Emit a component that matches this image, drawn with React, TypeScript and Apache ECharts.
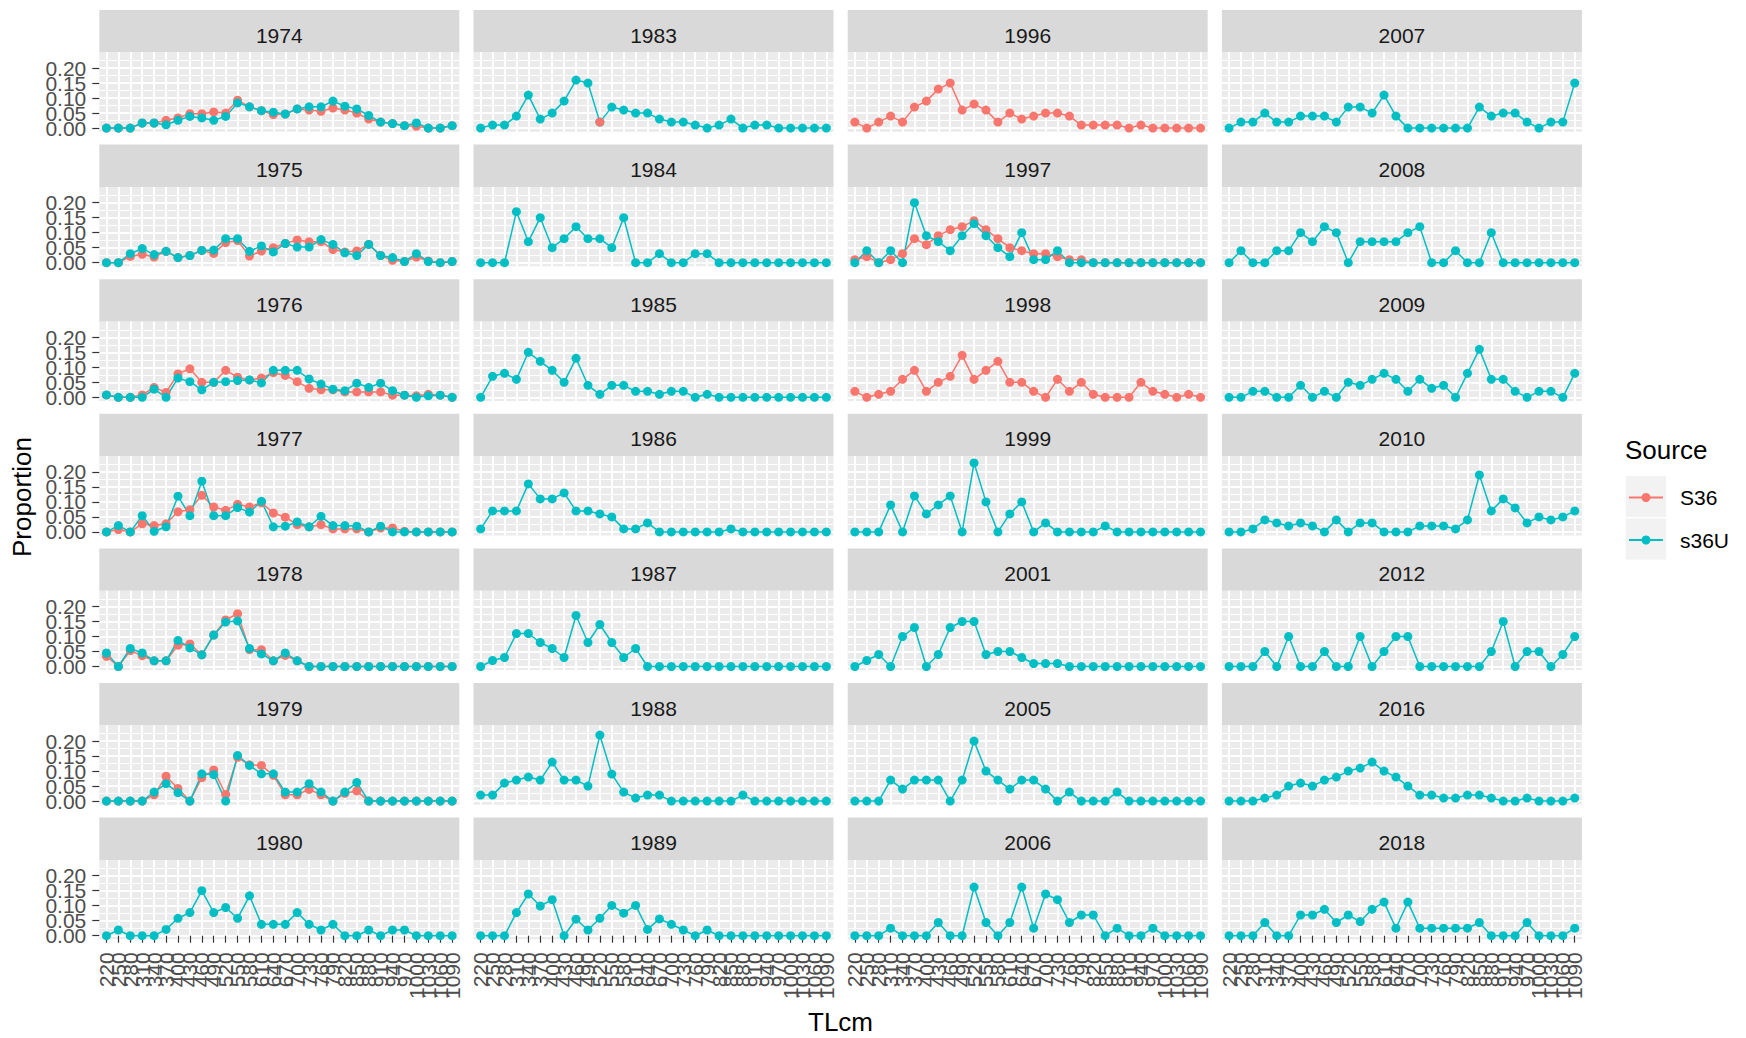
import React, { useEffect, useRef } from 'react';
import * as echarts from 'echarts';

const categories = ['220','250','280','310','340','370','400','430','460','490','520','550','580','610','640','670','700','730','760','790','820','850','880','910','940','970','1000','1030','1060','1090'];
const yTickLabels = ['0.00','0.05','0.10','0.15','0.20'];
const years = ['1974','1983','1996','2007','1975','1984','1997','2008','1976','1985','1998','2009','1977','1986','1999','2010','1978','1987','2001','2012','1979','1988','2005','2016','1980','1989','2006','2018'];

// s36U series
const U1974 = [0,0,0,0.017,0.017,0.011,0.026,0.039,0.034,0.026,0.039,0.084,0.071,0.058,0.053,0.047,0.064,0.071,0.071,0.09,0.073,0.064,0.042,0.02,0.015,0.008,0.017,0,0,0.008];
const U1975 = [0,0,0.03,0.047,0.027,0.038,0.017,0.024,0.041,0.042,0.08,0.08,0.038,0.056,0.036,0.064,0.052,0.052,0.077,0.061,0.033,0.024,0.061,0.024,0.017,0.004,0.03,0.004,0,0.004];
const U1976 = [0.008,0,0,0,0.027,0,0.064,0.052,0.025,0.05,0.052,0.056,0.058,0.048,0.09,0.09,0.09,0.061,0.044,0.027,0.022,0.047,0.033,0.047,0.022,0.007,0,0.005,0.007,0];
const U1977 = [0,0.021,0,0.054,0.002,0.017,0.119,0.054,0.169,0.054,0.054,0.081,0.066,0.102,0.017,0.019,0.033,0.017,0.052,0.021,0.021,0.019,0,0.019,0,0,0,0,0,0];
const U1978 = [0.045,0,0.06,0.045,0.019,0.019,0.087,0.062,0.039,0.105,0.148,0.152,0.06,0.042,0.019,0.045,0.019,0,0,0,0,0,0,0,0,0,0,0,0,0];
const U1979 = [0,0,0,0,0.03,0.058,0.028,0,0.091,0.088,0,0.152,0.119,0.091,0.091,0.03,0.03,0.058,0.03,0,0.03,0.062,0,0,0,0,0,0,0,0];
const U1980 = [0,0.019,0,0,0,0.021,0.058,0.077,0.15,0.077,0.094,0.058,0.133,0.038,0.038,0.038,0.077,0.038,0.019,0.038,0,0,0.019,0,0.019,0.019,0,0,0,0];
const U1983 = [0,0.01,0.01,0.04,0.11,0.03,0.05,0.09,0.16,0.15,0.02,0.07,0.06,0.05,0.05,0.03,0.02,0.02,0.01,0,0.01,0.03,0,0.01,0.01,0,0,0,0,0];
const U1984 = [0,0,0,0.17,0.07,0.15,0.05,0.08,0.12,0.08,0.08,0.05,0.15,0,0,0.03,0,0,0.03,0.03,0,0,0,0,0,0,0,0,0,0];
const U1985 = [0,0.07,0.08,0.06,0.15,0.12,0.09,0.05,0.13,0.04,0.01,0.04,0.04,0.02,0.02,0.01,0.02,0.02,0,0.01,0,0,0,0,0,0,0,0,0,0];
const U1986 = [0.01,0.07,0.07,0.07,0.16,0.11,0.11,0.13,0.07,0.07,0.06,0.05,0.01,0.01,0.03,0,0,0,0,0,0,0.01,0,0,0,0,0,0,0,0];
const U1987 = [0,0.02,0.03,0.11,0.11,0.08,0.06,0.03,0.17,0.08,0.14,0.08,0.03,0.06,0,0,0,0,0,0,0,0,0,0,0,0,0,0,0,0];
const U1988 = [0.02,0.02,0.06,0.07,0.08,0.07,0.13,0.07,0.07,0.05,0.22,0.09,0.03,0.01,0.02,0.02,0,0,0,0,0,0,0.02,0,0,0,0,0,0,0];
const U1989 = [0,0,0,0.077,0.139,0.099,0.12,0,0.055,0.019,0.058,0.101,0.075,0.101,0.021,0.056,0.038,0.019,0,0.019,0,0,0,0,0,0,0,0,0,0];
const U1997 = [0,0.04,0,0.04,0,0.2,0.09,0.07,0.04,0.09,0.13,0.09,0.05,0.02,0.1,0.01,0.01,0.04,0,0,0,0,0,0,0,0,0,0,0,0];
const U1999 = [0,0,0,0.09,0,0.12,0.06,0.09,0.12,0,0.23,0.1,0,0.06,0.1,0,0.03,0,0,0,0,0.02,0,0,0,0,0,0,0,0];
const U2001 = [0,0.02,0.04,0,0.1,0.13,0,0.04,0.13,0.15,0.15,0.04,0.05,0.05,0.03,0.01,0.01,0.01,0,0,0,0,0,0,0,0,0,0,0,0];
const U2005 = [0,0,0,0.07,0.04,0.07,0.07,0.07,0,0.07,0.2,0.1,0.07,0.04,0.07,0.07,0.04,0,0.03,0,0,0,0.03,0,0,0,0,0,0,0];
const U2006 = [0,0,0,0.025,0,0,0,0.044,0,0,0.162,0.044,0,0.044,0.162,0.025,0.139,0.12,0.044,0.069,0.069,0,0.025,0,0,0.025,0,0,0,0];
const U2007 = [0,0.02,0.02,0.05,0.02,0.02,0.04,0.04,0.04,0.02,0.07,0.07,0.05,0.11,0.04,0,0,0,0,0,0,0.07,0.04,0.05,0.05,0.02,0,0.02,0.02,0.15];
const U2008 = [0,0.04,0,0,0.04,0.04,0.1,0.07,0.12,0.1,0,0.07,0.07,0.07,0.07,0.1,0.12,0,0,0.04,0,0,0.1,0,0,0,0,0,0,0];
const U2009 = [0,0,0.02,0.02,0,0,0.04,0,0.02,0,0.05,0.04,0.06,0.08,0.06,0.02,0.06,0.03,0.04,0,0.08,0.16,0.06,0.06,0.02,0,0.02,0.02,0,0.08];
const U2010 = [0,0,0.01,0.04,0.03,0.02,0.03,0.02,0,0.04,0,0.03,0.03,0,0,0,0.02,0.02,0.02,0.01,0.04,0.19,0.07,0.11,0.08,0.03,0.05,0.04,0.05,0.07];
const U2012 = [0,0,0,0.05,0,0.1,0,0,0.05,0,0,0.1,0,0.05,0.1,0.1,0,0,0,0,0,0,0.05,0.15,0,0.05,0.05,0,0.04,0.1];
const U2016 = [0,0,0,0.01,0.02,0.05,0.06,0.05,0.07,0.08,0.1,0.11,0.13,0.1,0.08,0.05,0.02,0.02,0.01,0.01,0.02,0.02,0.01,0,0,0.01,0,0,0,0.01];
const U2018 = [0,0,0,0.044,0,0,0.069,0.069,0.088,0.044,0.069,0.047,0.088,0.112,0.025,0.112,0.025,0.025,0.025,0.025,0.025,0.044,0,0,0,0.044,0,0,0,0.025];

// S36 series
const R1974 = [0,0,0,0.017,0.017,0.026,0.034,0.048,0.048,0.054,0.05,0.093,0.071,0.058,0.045,0.047,0.064,0.06,0.056,0.067,0.06,0.05,0.03,0.02,0.015,0.008,0.006,0,0,0.008];
const R1975 = [0,0,0.021,0.028,0.019,0.038,0.017,0.024,0.041,0.031,0.067,0.074,0.022,0.039,0.05,0.064,0.076,0.07,0.07,0.044,0.036,0.039,0.061,0.024,0.008,0.004,0.019,0.006,0,0.004];
const R1976 = [0.008,0,0,0.008,0.033,0.016,0.078,0.095,0.05,0.05,0.09,0.067,0.058,0.064,0.082,0.073,0.052,0.03,0.025,0.025,0.018,0.018,0.018,0.018,0.007,0.007,0.005,0.01,0.007,0];
const R1977 = [0,0.008,0,0.027,0.021,0.027,0.067,0.074,0.122,0.083,0.072,0.092,0.083,0.097,0.063,0.049,0.024,0.017,0.024,0.01,0.01,0.01,0,0.013,0.013,0.002,0,0,0,0];
const R1978 = [0.034,0,0.053,0.036,0.019,0.019,0.071,0.075,0.039,0.105,0.155,0.176,0.056,0.056,0.019,0.037,0.019,0,0,0,0,0,0,0,0,0,0,0,0,0];
const R1979 = [0,0,0,0,0.021,0.083,0.042,0,0.078,0.104,0.022,0.146,0.121,0.119,0.086,0.021,0.021,0.039,0.021,0,0.026,0.034,0,0,0,0,0,0,0,0];
const R1983 = [null,null,null,null,null,null,null,null,null,null,0.02,null,null,null,null,null,null,null,null,null,null,null,null,null,null,null,null,null,null,null];
const R1996 = [0.02,0,0.02,0.04,0.02,0.07,0.09,0.13,0.15,0.06,0.08,0.06,0.02,0.05,0.03,0.04,0.05,0.05,0.04,0.01,0.01,0.01,0.01,0,0.01,0,0,0,0,0];
const R1997 = [0.01,0.02,0,0.01,0.03,0.08,0.06,0.09,0.11,0.12,0.14,0.11,0.08,0.05,0.04,0.03,0.03,0.02,0.01,0.01,0,0,0,0,0,0,0,0,0,0];
const R1998 = [0.02,0,0.01,0.02,0.06,0.09,0.02,0.05,0.07,0.14,0.06,0.09,0.12,0.05,0.05,0.02,0,0.06,0.02,0.05,0.01,0,0,0,0.05,0.02,0.01,0,0.01,0];

const seriesU: Record<string, (number | null)[] | null> = {
  '1974': U1974, '1975': U1975, '1976': U1976, '1977': U1977, '1978': U1978, '1979': U1979, '1980': U1980,
  '1983': U1983, '1984': U1984, '1985': U1985, '1986': U1986, '1987': U1987, '1988': U1988, '1989': U1989,
  '1996': null, '1997': U1997, '1998': null, '1999': U1999, '2001': U2001, '2005': U2005, '2006': U2006,
  '2007': U2007, '2008': U2008, '2009': U2009, '2010': U2010, '2012': U2012, '2016': U2016, '2018': U2018,
};
const seriesR: Record<string, (number | null)[] | null> = {
  '1974': R1974, '1975': R1975, '1976': R1976, '1977': R1977, '1978': R1978, '1979': R1979,
  '1983': R1983, '1996': R1996, '1997': R1997, '1998': R1998,
};
// panels where the S36 points are drawn above the s36U points
const redOnTop = ['1983'];

const RED = '#F8766D';
const TEAL = '#00BFC4';
const FONT = "'Liberation Sans', Arial, sans-serif";

const COL_LEFT = [99.3, 473.5, 847.7, 1221.9];
const PANEL_W = 360;
const PANEL_H = 79.4;
const ROW0_TOP = 52.3;
const ROW_PITCH = 134.6;
const STRIP_H = 42.3;
const PX_PER_VAL = 300;

function buildOption() {
  const grids: any[] = [];
  const xAxes: any[] = [];
  const yAxes: any[] = [];
  const series: any[] = [];
  const graphics: any[] = [];
  const unit = PANEL_W / 30.2;
  const noGrid = { outerBoundsMode: 'none', containLabel: false };

  years.forEach((year, i) => {
    const r = Math.floor(i / 4);
    const c = i % 4;
    const pL = COL_LEFT[c];
    const pT = ROW0_TOP + r * ROW_PITCH;
    const pB = pT + PANEL_H;
    const zeroY = pB - 3.6;
    const bottomRow = r === 6;
    const firstCol = c === 0;

    graphics.push({ type: 'rect', z: -10, silent: true, shape: { x: pL, y: pT, width: PANEL_W, height: PANEL_H }, style: { fill: '#EBEBEB' } });
    graphics.push({ type: 'rect', z: -10, silent: true, shape: { x: pL, y: pT - STRIP_H, width: PANEL_W, height: STRIP_H }, style: { fill: '#D9D9D9' } });
    graphics.push({ type: 'text', silent: true, x: pL + PANEL_W / 2, y: pT - STRIP_H + 25, style: { text: year, fill: '#1A1A1A', fontSize: 21, fontFamily: FONT, align: 'center', verticalAlign: 'middle', textAlign: 'center', textVerticalAlign: 'middle' } });

    // grid A: data
    const a = grids.length;
    grids.push({ left: pL + 0.6 * unit, top: zeroY - 0.2 * PX_PER_VAL, width: 29 * unit, height: 0.2 * PX_PER_VAL, ...noGrid });
    xAxes.push({
      type: 'category', gridIndex: a, data: categories, boundaryGap: false, offset: 3.6,
      axisLine: { show: false },
      axisTick: { show: bottomRow, interval: 0, length: 7, lineStyle: { color: '#333333', width: 1.2 } },
      axisLabel: { show: bottomRow, interval: 0, rotate: 90, fontSize: 21, color: '#4D4D4D', fontFamily: FONT, margin: 13, hideOverlap: false },
      splitLine: { show: false },
    });
    yAxes.push({
      type: 'value', gridIndex: a, min: 0, max: 0.2, interval: 0.05, offset: 0.6 * unit,
      axisLine: { show: false },
      axisTick: { show: firstCol, length: 7, lineStyle: { color: '#333333', width: 1.2 } },
      axisLabel: { show: false },
      splitLine: { show: false },
    });

    // grid B: horizontal grid lines
    const b = grids.length;
    grids.push({ left: pL, top: zeroY - 0.25 * PX_PER_VAL, width: PANEL_W, height: 0.25 * PX_PER_VAL, ...noGrid });
    xAxes.push({ type: 'value', gridIndex: b, min: 0, max: 1, show: false });
    yAxes.push({
      type: 'value', gridIndex: b, min: 0, max: 0.25, interval: 0.05,
      axisLine: { show: false }, axisTick: { show: false }, axisLabel: { show: false },
      splitLine: { show: true, showMaxLine: false, lineStyle: { color: '#FFFFFF', width: 2 } },
      minorTick: { show: false, splitNumber: 2 },
      minorSplitLine: { show: true, lineStyle: { color: '#FFFFFF', width: 1.1 } },
    });

    // grid C: vertical grid lines
    const cc = grids.length;
    grids.push({ left: pL + 0.6 * unit, top: pT, width: 29 * unit, height: PANEL_H, ...noGrid });
    xAxes.push({
      type: 'category', gridIndex: cc, data: categories, boundaryGap: false,
      axisLine: { show: false }, axisTick: { show: false }, axisLabel: { show: false },
      splitLine: { show: true, interval: 0, lineStyle: { color: '#FFFFFF', width: 2 } },
    });
    yAxes.push({ type: 'value', gridIndex: cc, min: 0, max: 1, show: false });

    if (firstCol) {
      // label grid D: 0.00, 0.10, 0.20
      const d = grids.length;
      grids.push({ left: pL, top: zeroY - 0.2 * PX_PER_VAL, width: PANEL_W, height: 0.2 * PX_PER_VAL, ...noGrid });
      xAxes.push({ type: 'value', gridIndex: d, min: 0, max: 1, show: false });
      yAxes.push({
        type: 'value', gridIndex: d, min: 0, max: 0.2, interval: 0.1,
        axisLine: { show: false }, axisTick: { show: false }, splitLine: { show: false },
        axisLabel: { show: true, showMinLabel: true, showMaxLabel: true, fontSize: 21, color: '#4D4D4D', fontFamily: FONT, margin: 13, formatter: (v: number) => yTickLabels[Math.round(v / 0.05)] ?? '' },
      });
      // label grid E: 0.05, 0.15
      const e = grids.length;
      grids.push({ left: pL, top: zeroY - 0.15 * PX_PER_VAL, width: PANEL_W, height: 0.1 * PX_PER_VAL, ...noGrid });
      xAxes.push({ type: 'value', gridIndex: e, min: 0, max: 1, show: false });
      yAxes.push({
        type: 'value', gridIndex: e, min: 0, max: 0.1, interval: 0.1,
        axisLine: { show: false }, axisTick: { show: false }, splitLine: { show: false },
        axisLabel: { show: true, showMinLabel: true, showMaxLabel: true, fontSize: 21, color: '#4D4D4D', fontFamily: FONT, margin: 13, formatter: (v: number) => yTickLabels[Math.round(v / 0.05) + 1] ?? '' },
      });
    }

    const lineCommon = {
      type: 'line', xAxisIndex: a, yAxisIndex: a, symbol: 'circle', symbolSize: 9,
      showSymbol: false, clip: false, connectNulls: true, silent: true,
      emphasis: { disabled: true },
    };
    const pointCommon = {
      type: 'scatter', xAxisIndex: a, yAxisIndex: a, symbol: 'circle', symbolSize: 9,
      clip: false, silent: true, emphasis: { disabled: true },
    };
    const rd = seriesR[year];
    const ud = seriesU[year];
    const rTop = redOnTop.includes(year);
    // lines (beneath all points), named for the legend
    if (rd) series.push({ ...lineCommon, name: 'S36', data: rd, z: 2, lineStyle: { width: 1.5, color: RED }, itemStyle: { color: RED }, color: RED });
    if (ud) series.push({ ...lineCommon, name: 's36U', data: ud, z: 2, lineStyle: { width: 1.5, color: TEAL }, itemStyle: { color: TEAL }, color: TEAL });
    // points above the lines
    if (rd) series.push({ ...pointCommon, data: rd, z: rTop ? 5 : 3, itemStyle: { color: RED, opacity: 1 } });
    if (ud) series.push({ ...pointCommon, data: ud, z: 4, itemStyle: { color: TEAL, opacity: 1 } });
  });

  // legend key backgrounds and titles
  graphics.push({ type: 'rect', z: -10, silent: true, shape: { x: 1625.7, y: 476, width: 40.5, height: 41 }, style: { fill: '#F2F2F2' } });
  graphics.push({ type: 'rect', z: -10, silent: true, shape: { x: 1625.7, y: 518.5, width: 40.5, height: 41 }, style: { fill: '#F2F2F2' } });
  graphics.push({ type: 'text', silent: true, x: 1625, y: 450, style: { text: 'Source', fill: '#000000', fontSize: 26, fontFamily: FONT, align: 'left', verticalAlign: 'middle', textAlign: 'left', textVerticalAlign: 'middle' } });
  graphics.push({ type: 'text', silent: true, x: 840.5, y: 1022, style: { text: 'TLcm', fill: '#000000', fontSize: 26, fontFamily: FONT, align: 'center', verticalAlign: 'middle', textAlign: 'center', textVerticalAlign: 'middle' } });
  graphics.push({ type: 'text', silent: true, x: 22, y: 497, rotation: Math.PI / 2, style: { text: 'Proportion', fill: '#000000', fontSize: 26, fontFamily: FONT, align: 'center', verticalAlign: 'middle', textAlign: 'center', textVerticalAlign: 'middle' } });

  return {
    animation: false,
    backgroundColor: '#FFFFFF',
    textStyle: { fontFamily: FONT },
    grid: grids,
    xAxis: xAxes,
    yAxis: yAxes,
    series,
    legend: {
      data: ['S36', 's36U'],
      orient: 'vertical',
      left: 1628,
      top: 487,
      padding: 0,
      itemWidth: 34,
      itemHeight: 11.25,
      itemGap: 21.5,
      selectedMode: false,
      textStyle: { fontSize: 21, color: '#000000', fontFamily: FONT, padding: [0, 0, 0, 12] },
    },
    graphic: { elements: graphics },
  };
}

export default function App() {
  const ref = useRef<HTMLDivElement>(null);
  useEffect(() => {
    document.body.style.margin = '0';
    if (!ref.current) return;
    const chart = echarts.init(ref.current, undefined, { renderer: 'svg' });
    chart.setOption(buildOption() as any);
    return () => chart.dispose();
  }, []);
  return <div ref={ref} style={{ width: 1746, height: 1038 }} />;
}
